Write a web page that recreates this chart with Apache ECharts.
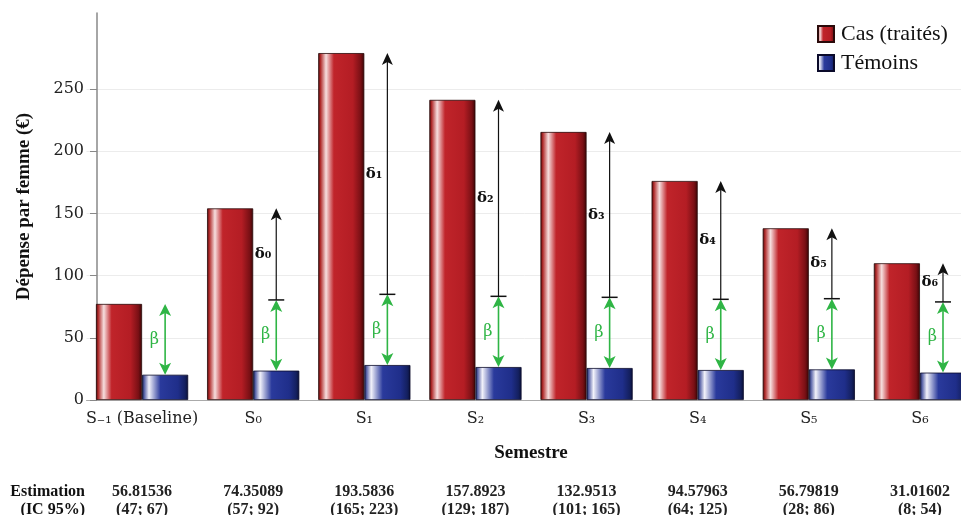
<!DOCTYPE html>
<html>
<head>
<meta charset="utf-8">
<script src="https://cdn.jsdelivr.net/npm/echarts@6/dist/echarts.min.js"></script>
<style>html,body{margin:0;padding:0;background:#fff;}#c{width:961px;height:515px;}</style>
</head>
<body>
<div id="c"></div>
<script>
// ---- data ----
const categories = ['S\u208B\u2081 (Baseline)', 'S\u2080', 'S\u2081', 'S\u2082', 'S\u2083', 'S\u2084', 'S\u2085', 'S\u2086'];
const casValues = [77.2, 154.0, 278.8, 241.2, 215.4, 176.0, 138.0, 109.9];
const temoinValues = [20.3, 23.6, 28.1, 26.5, 25.7, 24.1, 24.6, 22.0];
const beta = 56.81536;
const estimations = ['56.81536', '74.35089', '193.5836', '157.8923', '132.9513', '94.57963', '56.79819', '31.01602'];
const ciLow = [47, 57, 165, 129, 101, 64, 28, 8];
const ciHigh = [67, 92, 223, 187, 165, 125, 86, 54];
const yTicks = [0, 50, 100, 150, 200, 250];

const GAP = 0.17;
const SERIF = '"DejaVu Serif", serif';
const TIMES = '"Liberation Serif", "DejaVu Serif", serif';

const casGrad = new echarts.graphic.LinearGradient(0, 0, 1, 0, [
  {offset: 0, color: '#4a0808'},
  {offset: 0.05, color: '#b02a2a'},
  {offset: 0.17, color: '#f6dede'},
  {offset: 0.34, color: '#c0242a'},
  {offset: 0.75, color: '#b41d24'},
  {offset: 0.92, color: '#7a1015'},
  {offset: 1, color: '#3a0505'}
]);
const temGrad = new echarts.graphic.LinearGradient(0, 0, 1, 0, [
  {offset: 0, color: '#0c1440'},
  {offset: 0.05, color: '#5a64a8'},
  {offset: 0.15, color: '#f2f2fa'},
  {offset: 0.4, color: '#2a3a9c'},
  {offset: 0.78, color: '#1f2e8a'},
  {offset: 0.93, color: '#142060'},
  {offset: 1, color: '#0a1036'}
]);

const arrowData = categories.map((c, i) => [i, temoinValues[i], casValues[i]]);

function renderArrows(params, api) {
  const i = api.value(0);
  const tem = api.value(1), cas = api.value(2);
  const top = tem + beta;
  const band = api.size([1, 0])[0];
  const x = api.coord([i, 0])[0] + band * (1 - GAP) / 4;
  const yTem = api.coord([i, tem])[1];
  const yTop = api.coord([i, top])[1];
  const yCas = api.coord([i, cas])[1];
  const g = '#2fb545';
  const ah = 12, aw = 6;
  const ch = [];
  ch.push({type: 'line', shape: {x1: x, y1: yTop + ah * 0.7, x2: x, y2: yTem - ah * 0.7}, style: {stroke: g, lineWidth: 1.6}});
  ch.push({type: 'polygon', shape: {points: [[x, yTop], [x - aw, yTop + ah], [x, yTop + ah * 0.75], [x + aw, yTop + ah]]}, style: {fill: g}});
  ch.push({type: 'polygon', shape: {points: [[x, yTem], [x - aw, yTem - ah], [x, yTem - ah * 0.75], [x + aw, yTem - ah]]}, style: {fill: g}});
  ch.push({type: 'text', x: x - 6, y: (yTop + yTem) / 2, style: {text: '\u03B2', fill: g, align: 'right', verticalAlign: 'middle', font: '16px ' + SERIF}});
  if (i > 0) {
    const k = '#111';
    ch.push({type: 'line', shape: {x1: x, y1: yTop, x2: x, y2: yCas + ah * 0.7}, style: {stroke: k, lineWidth: 1.2}});
    ch.push({type: 'polygon', shape: {points: [[x, yCas], [x - 5.5, yCas + ah], [x, yCas + ah * 0.75], [x + 5.5, yCas + ah]]}, style: {fill: k}});
    ch.push({type: 'line', shape: {x1: x - 8, y1: yTop, x2: x + 8, y2: yTop}, style: {stroke: k, lineWidth: 1.5}});
    ch.push({type: 'text', x: x - 5, y: (yTop + yCas) / 2, style: {text: '\u03B4' + String.fromCharCode(0x2080 + i - 1), fill: k, align: 'right', verticalAlign: 'middle', font: 'bold 15px ' + SERIF}});
  }
  return {type: 'group', children: ch};
}

const chart = echarts.init(document.getElementById('c'), null, {renderer: 'canvas'});
chart.setOption({
  animation: false,
  backgroundColor: '#fff',
  grid: {left: 86.5, right: -14.5, top: 13, bottom: 115, containLabel: false, outerBoundsMode: 'none'},
  legend: {
    data: ['Cas (traités)', 'Témoins'],
    orient: 'vertical', left: 812, top: 18,
    itemWidth: 16, itemHeight: 16, itemGap: 7,
    icon: 'rect',
    textStyle: {fontFamily: TIMES, fontSize: 22, color: '#111', padding: [0, 0, 0, 2]}
  },
  xAxis: {
    type: 'category',
    data: categories,
    axisLine: {lineStyle: {color: '#aaa', width: 1}},
    axisTick: {show: false},
    name: 'Semestre',
    nameLocation: 'middle',
    nameGap: 44,
    nameMoveOverlap: false,
    nameTextStyle: {fontFamily: TIMES, fontWeight: 'bold', fontSize: 19, color: '#111'},
    axisLabel: {
      interval: 0,
      margin: 9,
      formatter: (v, idx) => '{cat|' + v + '}\n{sp| }\n{est|' + estimations[idx] + '}\n{ic|(' + ciLow[idx] + '; ' + ciHigh[idx] + ')}',
      rich: {
        cat: {fontFamily: SERIF, fontSize: 16, color: '#222', lineHeight: 20},
        sp: {fontSize: 10, lineHeight: 53},
        est: {fontFamily: TIMES, fontWeight: 'bold', fontSize: 16, color: '#222', lineHeight: 20},
        ic: {fontFamily: TIMES, fontWeight: 'bold', fontSize: 16, color: '#222', lineHeight: 16}
      }
    }
  },
  yAxis: {
    type: 'value',
    min: 0, max: 311, interval: 50,
    offset: -10.5,
    name: 'Dépense par femme (€)',
    nameLocation: 'middle',
    nameGap: 63,
    nameMoveOverlap: false,
    nameTextStyle: {fontFamily: TIMES, fontWeight: 'bold', fontSize: 19, color: '#111'},
    axisLine: {show: true, lineStyle: {color: '#888', width: 1.5}},
    axisTick: {show: true, length: 7, customValues: yTicks, lineStyle: {color: '#888'}},
    axisLabel: {customValues: yTicks, margin: 13, fontFamily: SERIF, fontSize: 16, color: '#222'},
    splitLine: {show: true, lineStyle: {color: '#ececec', width: 1}}
  },
  series: [
    {
      name: 'Cas (traités)', type: 'bar', data: casValues,
      barGap: '0%', barCategoryGap: (GAP * 100) + '%',
      itemStyle: {color: casGrad, borderColor: '#2a0a0a', borderWidth: 0.8}
    },
    {
      name: 'Témoins', type: 'bar', data: temoinValues,
      barGap: '0%', barCategoryGap: (GAP * 100) + '%',
      itemStyle: {color: temGrad, borderColor: '#0a0a2a', borderWidth: 0.8}
    },
    {
      name: 'arrows', type: 'custom', data: arrowData,
      encode: {x: 0, y: [1, 2]},
      renderItem: renderArrows, z: 5, silent: true
    }
  ],
  graphic: [
    {type: 'text', right: 961 - 85, top: 484, style: {text: 'Estimation', font: 'bold 16px ' + TIMES, fill: '#111', textAlign: 'right'}},
    {type: 'text', right: 961 - 85, top: 502, style: {text: '(IC 95%)', font: 'bold 16px ' + TIMES, fill: '#111', textAlign: 'right'}}
  ]
});
</script>
</body>
</html>
